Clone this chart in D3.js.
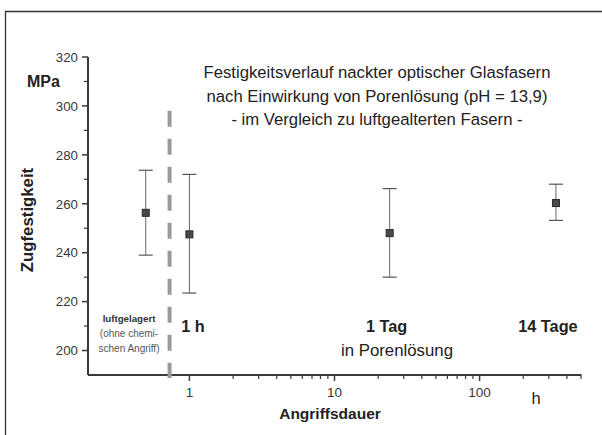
<!DOCTYPE html>
<html>
<head>
<meta charset="utf-8">
<script src="https://cdn.jsdelivr.net/npm/d3@7"></script>
<style>
  html, body { margin: 0; padding: 0; background: #fff; overflow: hidden; }
  svg { display: block; font-family: "Liberation Sans", Arial, sans-serif; }
</style>
</head>
<body>
<svg id="chart" width="602" height="435"></svg>
<script>
// Exposure time in hours (0.5 = air-stored reference group)
const durations = [0.5, 1, 24, 336];
// Mean tensile strength (MPa) and error bar limits
const strength = [256.3, 247.5, 248, 260.3];
const errLow   = [239, 223.5, 230, 253.2];
const errHigh  = [273.7, 272, 266.2, 268];

const yTicks = [200, 220, 240, 260, 280, 300, 320];
const yMinorTicks = [210, 230, 250, 270, 290, 310];
const xTicks = [1, 10, 100];
const xMinorTicks = [2,3,4,5,6,7,8,9,20,30,40,50,60,70,80,90,200,300,400,500];
const separatorAt = 0.73;

const titleLines = [
  "Festigkeitsverlauf nackter optischer Glasfasern",
  "nach Einwirkung von Porenlösung (pH = 13,9)",
  "- im Vergleich zu luftgealterten Fasern -"
];
const refLines = ["luftgelagert", "(ohne chemi-", "schen Angriff)"];
const periodLabels = [
  { t: 1, text: "1 h", dx: 3.5 },
  { t: 24, text: "1 Tag", dx: -3 },
  { t: 336, text: "14 Tage", dx: -8 }
];

const svg = d3.select("#chart");
const axisColor = "#3a3a3a";
const textColor = "#222";

const x = d3.scaleLog().domain([0.2, 500]).range([88, 581]);
const y = d3.scaleLinear().domain([190, 320]).range([375, 57]);

// outer frame (top and left edges fall inside the page)
svg.append("path")
  .attr("d", "M5.5,440 V11.5 H610")
  .attr("fill", "none").attr("stroke", "#333").attr("stroke-width", 1.3);

// y axis
const yAxis = svg.append("g").attr("transform", "translate(88,0)");
yAxis.append("line").attr("x1", 0).attr("x2", 0).attr("y1", y(320)).attr("y2", y(190))
  .attr("stroke", axisColor).attr("stroke-width", 2);
yAxis.selectAll(".ymaj").data(yTicks).join("line")
  .attr("x1", -6).attr("x2", 0).attr("y1", d => y(d)).attr("y2", d => y(d))
  .attr("stroke", axisColor).attr("stroke-width", 1.5);
yAxis.selectAll(".ymin").data(yMinorTicks).join("line")
  .attr("x1", -4).attr("x2", 0).attr("y1", d => y(d)).attr("y2", d => y(d))
  .attr("stroke", axisColor).attr("stroke-width", 1.2);
yAxis.selectAll("text").data(yTicks).join("text")
  .attr("x", -10).attr("y", d => y(d)).attr("dy", "0.36em")
  .attr("text-anchor", "end").attr("font-size", 13.3).attr("fill", "#383838")
  .text(d => d);

// x axis
const xAxis = svg.append("g").attr("transform", "translate(0,375)");
xAxis.append("line").attr("x1", x(0.2)).attr("x2", x(500)).attr("y1", 0).attr("y2", 0)
  .attr("stroke", axisColor).attr("stroke-width", 2);
xAxis.selectAll(".xmaj").data(xTicks).join("line")
  .attr("x1", d => x(d)).attr("x2", d => x(d)).attr("y1", 0).attr("y2", 6)
  .attr("stroke", axisColor).attr("stroke-width", 1.5);
xAxis.selectAll(".xmin").data(xMinorTicks).join("line")
  .attr("x1", d => x(d)).attr("x2", d => x(d)).attr("y1", -1).attr("y2", 4)
  .attr("stroke", axisColor).attr("stroke-width", 1.2);
xAxis.selectAll("text").data(xTicks).join("text")
  .attr("x", d => x(d)).attr("y", 22)
  .attr("text-anchor", "middle").attr("font-size", 13.5).attr("fill", "#383838")
  .text(d => d);

// separator between reference group and solution exposure
svg.append("line")
  .attr("x1", x(separatorAt)).attr("x2", x(separatorAt))
  .attr("y1", y(298)).attr("y2", 378)
  .attr("stroke", "#9a9a9a").attr("stroke-width", 4)
  .attr("stroke-dasharray", "16 12");

// error bars
const bars = svg.append("g");
durations.forEach((t, i) => {
  const cx = x(t);
  bars.append("line").attr("x1", cx).attr("x2", cx)
    .attr("y1", y(errLow[i])).attr("y2", y(errHigh[i]))
    .attr("stroke", "#666").attr("stroke-width", 1);
  [errLow[i], errHigh[i]].forEach(v => {
    bars.append("line").attr("x1", cx - 7).attr("x2", cx + 7)
      .attr("y1", y(v)).attr("y2", y(v))
      .attr("stroke", "#555").attr("stroke-width", 1.2);
  });
});
bars.selectAll("rect").data(durations).join("rect")
  .attr("x", d => x(d) - 3.5).attr("y", (d, i) => y(strength[i]) - 3.5)
  .attr("width", 7).attr("height", 7)
  .attr("fill", "#4a4a4a").attr("stroke", "#2a2a2a").attr("stroke-width", 1);

// title
svg.append("text").attr("text-anchor", "middle").attr("font-size", 16.7).attr("fill", textColor)
  .selectAll("tspan").data(titleLines).join("tspan")
  .attr("x", 377).attr("y", (d, i) => 78 + i * 23.5)
  .text(d => d);

// axis titles
svg.append("text").attr("x", 27).attr("y", 87)
  .attr("font-size", 16).attr("font-weight", "bold").attr("fill", textColor)
  .text("MPa");
svg.append("text")
  .attr("transform", "translate(33,220) rotate(-90)")
  .attr("text-anchor", "middle").attr("font-size", 16.8).attr("font-weight", "bold")
  .attr("fill", textColor).text("Zugfestigkeit");
svg.append("text").attr("x", 330).attr("y", 419)
  .attr("text-anchor", "middle").attr("font-size", 15.5).attr("font-weight", "bold")
  .attr("fill", textColor).text("Angriffsdauer");
svg.append("text").attr("x", 536).attr("y", 404)
  .attr("text-anchor", "middle").attr("font-size", 16.5)
  .attr("fill", textColor).text("h");

// reference group note
svg.append("text").attr("text-anchor", "middle")
  .selectAll("tspan").data(refLines).join("tspan")
  .attr("x", 129).attr("y", (d, i) => 322 + i * 15)
  .attr("font-size", (d, i) => i === 0 ? 9.7 : 10)
  .attr("font-weight", (d, i) => i === 0 ? "bold" : "normal")
  .attr("fill", (d, i) => i === 0 ? "#333" : "#555")
  .text(d => d);

// exposure period labels
svg.selectAll(".period").data(periodLabels).join("text")
  .attr("x", d => x(d.t) + d.dx).attr("y", 332)
  .attr("text-anchor", "middle")
  .attr("font-size", 16.3).attr("font-weight", "bold").attr("fill", textColor)
  .text(d => d.text);
svg.append("text").attr("x", 397).attr("y", 356)
  .attr("text-anchor", "middle").attr("font-size", 16.8).attr("fill", textColor)
  .text("in Porenlösung");
</script>
</body>
</html>
